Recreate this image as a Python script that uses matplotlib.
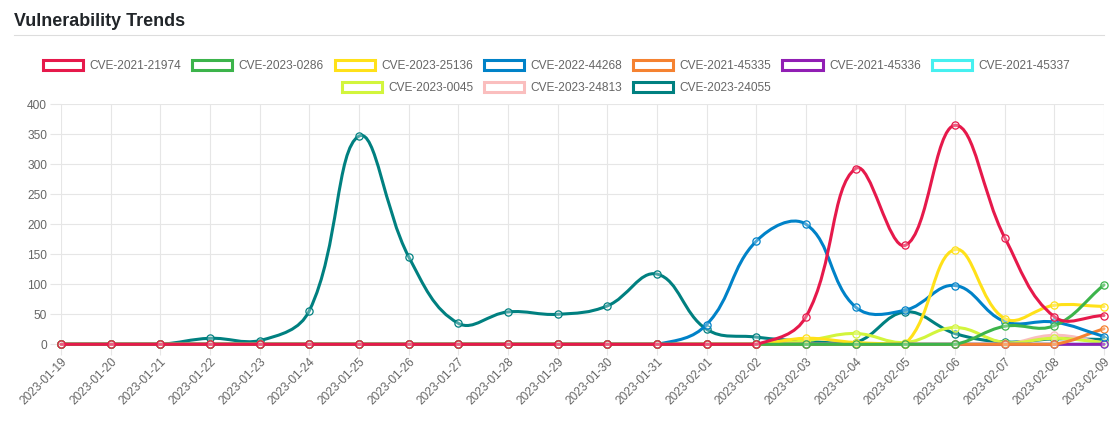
import numpy as np
import matplotlib.pyplot as plt
from matplotlib.path import Path
from matplotlib.patches import PathPatch, Patch
from matplotlib.lines import Line2D

plt.rcParams['font.family'] = ['Liberation Sans', 'DejaVu Sans']

# ---- data ----
dates = ['2023-01-19', '2023-01-20', '2023-01-21', '2023-01-22', '2023-01-23',
         '2023-01-24', '2023-01-25', '2023-01-26', '2023-01-27', '2023-01-28',
         '2023-01-29', '2023-01-30', '2023-01-31', '2023-02-01', '2023-02-02',
         '2023-02-03', '2023-02-04', '2023-02-05', '2023-02-06', '2023-02-07',
         '2023-02-08', '2023-02-09']

cve_2021_21974 = [0, 0, 0, 0, 0, 0, 0, 0, 0, 0, 0, 0, 0, 0, 0, 46, 293, 165, 365, 178, 46, 48]
cve_2023_0286 = [0, 0, 0, 0, 0, 0, 0, 0, 0, 0, 0, 0, 0, 0, 0, 0, 0, 0, 0, 30, 31, 99]
cve_2023_25136 = [0, 0, 0, 0, 0, 0, 0, 0, 0, 0, 0, 0, 0, 0, 0, 10, 3, 1, 158, 43, 65, 63]
cve_2022_44268 = [0, 0, 0, 0, 0, 0, 0, 0, 0, 0, 0, 0, 0, 33, 172, 200, 62, 57, 98, 38, 37, 13]
cve_2021_45335 = [0, 0, 0, 0, 0, 0, 0, 0, 0, 0, 0, 0, 0, 0, 0, 0, 0, 0, 0, 0, 0, 26]
cve_2021_45336 = [0, 0, 0, 0, 0, 0, 0, 0, 0, 0, 0, 0, 0, 0, 0, 0, 0, 0, 0, 0, 0, 0]
cve_2021_45337 = [0, 0, 0, 0, 0, 0, 0, 0, 0, 0, 0, 0, 0, 0, 0, 0, 0, 0, 0, 0, 0, 0]
cve_2023_0045 = [0, 0, 0, 0, 0, 0, 0, 0, 0, 0, 0, 0, 0, 0, 0, 6, 18, 3, 28, 3, 10, 3]
cve_2023_24813 = [0, 0, 0, 0, 0, 0, 0, 0, 0, 0, 0, 0, 0, 0, 0, 0, 0, 0, 0, 0, 15, 2]
cve_2023_24055 = [0, 0, 0, 10, 6, 56, 347, 146, 35, 54, 50, 64, 117, 25, 12, 5, 3, 54, 18, 4, 9, 8]

names = ['CVE-2021-21974', 'CVE-2023-0286', 'CVE-2023-25136', 'CVE-2022-44268',
         'CVE-2021-45335', 'CVE-2021-45336', 'CVE-2021-45337', 'CVE-2023-0045',
         'CVE-2023-24813', 'CVE-2023-24055']
values = [cve_2021_21974, cve_2023_0286, cve_2023_25136, cve_2022_44268,
          cve_2021_45335, cve_2021_45336, cve_2021_45337, cve_2023_0045,
          cve_2023_24813, cve_2023_24055]
colors = ['#e6194b', '#3cb44b', '#ffe119', '#0082c8', '#f58231',
          '#911eb4', '#46f0f0', '#d2f53c', '#fabebe', '#008080']

TEXT = '#666666'
GRID = '#e6e6e6'
W, H = 1118, 428


def smooth_path(ax, xs, ys, tension=0.4):
    # bezier curve through the points, same scheme as chart.js (tension 0.4)
    pts = ax.transData.transform(np.column_stack([xs, ys]))
    n = len(pts)
    prev_cp = np.zeros_like(pts)
    next_cp = np.zeros_like(pts)
    for i in range(n):
        p0 = pts[max(i - 1, 0)]
        p1 = pts[i]
        p2 = pts[min(i + 1, n - 1)]
        d01 = np.hypot(*(p1 - p0))
        d12 = np.hypot(*(p2 - p1))
        tot = d01 + d12
        s01 = d01 / tot if tot else 0
        s12 = d12 / tot if tot else 0
        prev_cp[i] = p1 - tension * s01 * (p2 - p0)
        next_cp[i] = p1 + tension * s12 * (p2 - p0)
    bb = ax.bbox
    for cp in (prev_cp, next_cp):
        cp[:, 0] = np.clip(cp[:, 0], bb.x0, bb.x1)
        cp[:, 1] = np.clip(cp[:, 1], bb.y0, bb.y1)
    verts = [pts[0]]
    codes = [Path.MOVETO]
    for i in range(n - 1):
        verts += [next_cp[i], prev_cp[i + 1], pts[i + 1]]
        codes += [Path.CURVE4] * 3
    verts = ax.transData.inverted().transform(np.array(verts))
    return Path(verts, codes)


fig = plt.figure(figsize=(W / 100, H / 100), dpi=100)
ax = fig.add_axes([61 / W, (H - 344.3) / H, (1104 - 61) / W, 240 / H])
ax.set_xlim(0, len(dates) - 1)
ax.set_ylim(0, 400)

x = np.arange(len(dates))
n_series = len(names)
for k, (name, vals, col) in enumerate(zip(names, values, colors)):
    z = 10 + (n_series - k) * 2
    p = smooth_path(ax, x, vals)
    ax.add_patch(PathPatch(p, facecolor='none', edgecolor=col, lw=2.2,
                           capstyle='round', joinstyle='round', zorder=z, clip_on=False))
    ax.plot(x, vals, ls='none', marker='o', ms=5.2, mew=0.9, mec=col,
            mfc=(1, 1, 1, 0.3), zorder=z + 1, clip_on=False)

ax.set_xticks(x)
ax.set_xticklabels(dates, rotation=45, ha='right', rotation_mode='anchor')
ax.set_yticks(np.arange(0, 401, 50))
for s in ax.spines.values():
    s.set_visible(False)
ax.tick_params(axis='both', length=8, color=GRID, labelcolor=TEXT, labelsize=8.6,
               grid_color=GRID, grid_linewidth=0.8)
ax.grid(True)
ax.set_axisbelow(True)
ax.tick_params(axis='y', pad=2)
ax.tick_params(axis='x', pad=0)

# title + separator
fig.text(14 / W, 1 - 26 / H, 'Vulnerability Trends', fontsize=12.85,
         fontweight='bold', color='#212529', va='baseline', ha='left')
fig.add_artist(Line2D([14 / W, 1104 / W], [1 - 34.5 / H, 1 - 34.5 / H],
                      color='#dddddd', lw=0.8))

# legend, two centred rows like the original
handles = [Patch(facecolor='white', edgecolor=c, lw=2.2) for c in colors]
rows = [(slice(0, 7), 66), (slice(7, 10), 88)]
for sl, ypix in rows:
    fig.legend(handles[sl], names[sl], loc='center',
               bbox_to_anchor=(556.5 / W, 1 - ypix / H), ncol=len(names[sl]),
               frameon=False, fontsize=8.6, handlelength=3.35,
               handleheight=0.98, handletextpad=0.54, columnspacing=0.92,
               labelcolor=TEXT, borderpad=0, borderaxespad=0)

fig.savefig('out.png', dpi=100)
